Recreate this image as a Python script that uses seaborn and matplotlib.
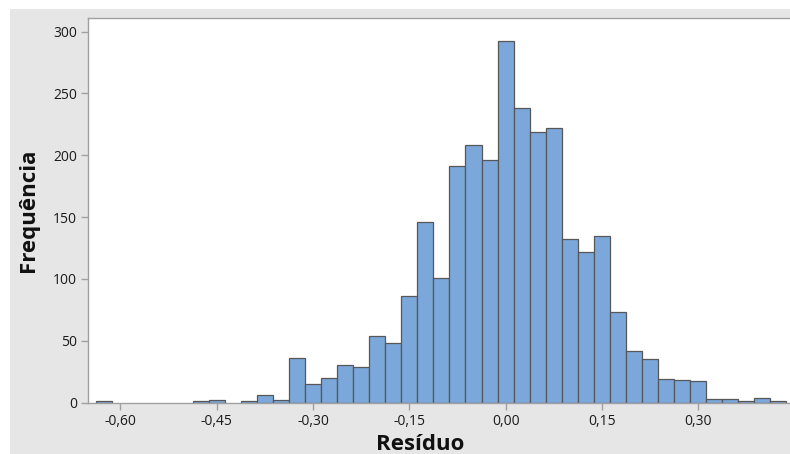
import matplotlib
matplotlib.use("Agg")
import matplotlib.pyplot as plt
import seaborn as sns
import pandas as pd
from matplotlib.patches import Rectangle

# Bin midpoints (resíduo) and frequencies
bin_mids = [-0.625, -0.600, -0.575, -0.550, -0.525, -0.500, -0.475, -0.450,
            -0.425, -0.400, -0.375, -0.350, -0.325, -0.300, -0.275, -0.250,
            -0.225, -0.200, -0.175, -0.150, -0.125, -0.100, -0.075, -0.050,
            -0.025, 0.000, 0.025, 0.050, 0.075, 0.100, 0.125, 0.150, 0.175,
            0.200, 0.225, 0.250, 0.275, 0.300, 0.325, 0.350, 0.375, 0.400,
            0.425]
freqs = [1, 0, 0, 0, 0, 0, 1, 2,
         0, 1, 6, 2, 36, 15, 20, 30,
         29, 54, 48, 86, 146, 101, 191, 208,
         196, 292, 238, 219, 222, 132, 122, 135, 73,
         42, 35, 19, 18, 17, 3, 3, 1, 4,
         1]
x_ticks = [-0.60, -0.45, -0.30, -0.15, 0.00, 0.15, 0.30]
x_tick_labels = ["-0,60", "-0,45", "-0,30", "-0,15", "0,00", "0,15", "0,30"]
y_ticks = [0, 50, 100, 150, 200, 250, 300]

df = pd.DataFrame({"residuo": bin_mids, "freq": freqs})

sns.set_style("white")
plt.rcParams["font.family"] = ["Open Sans", "DejaVu Sans"]

W, H = 790, 454
fig = plt.figure(figsize=(W / 100, H / 100), dpi=100)
fig.patch.set_facecolor("white")
# gray panel background (white margin on top and left)
fig.patches.append(Rectangle((10 / W, 0), 1 - 10 / W, (H - 9) / H,
                             transform=fig.transFigure, facecolor="#e6e6e6",
                             edgecolor="none", zorder=-10))

ax = fig.add_axes([88 / W, (H - 402.5) / H, (W - 88) / W, (402.5 - 18) / H])
ax.set_facecolor("white")

sns.histplot(data=df, x="residuo", weights="freq", binwidth=0.025,
             binrange=(-0.6375, 0.4375), color="#7ba7da", alpha=1,
             edgecolor="#575757", linewidth=0.9, ax=ax)
for p in ax.patches:
    if p.get_height() == 0:
        p.set_visible(False)

ax.set_xlim(-0.6505, 0.443)
ax.set_ylim(0, 311)
ax.set_xticks(x_ticks)
ax.set_xticklabels(x_tick_labels)
ax.set_yticks(y_ticks)

for s in ["left", "top", "bottom"]:
    ax.spines[s].set_color("#a0a0a0")
    ax.spines[s].set_linewidth(1.0)
ax.spines["right"].set_visible(False)

ax.tick_params(axis="both", which="both", direction="out", length=5, width=1,
               color="#a0a0a0", labelsize=10, labelcolor="#1a1a1a", pad=3,
               bottom=True, left=True)

ax.set_xlabel("Resíduo", fontsize=16, fontweight="bold", color="#111111")
ax.set_ylabel("Frequência", fontsize=16, fontweight="bold", color="#111111")
ax.xaxis.set_label_coords((420 - 88) / (W - 88), -0.082)
ax.yaxis.set_label_coords(-0.070, 0.5)

fig.savefig("out.png", dpi=100, facecolor=fig.get_facecolor())
